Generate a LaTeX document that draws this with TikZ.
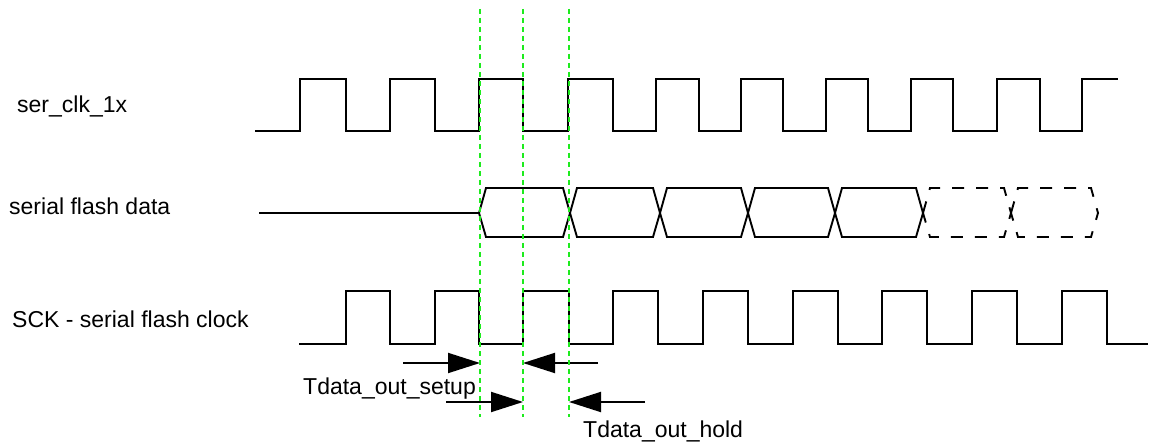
\documentclass[tikz,border=0pt]{standalone}
\usepackage{fontspec}
\setmainfont{Liberation Sans}
\usetikzlibrary{arrows.meta}
\definecolor{guidegreen}{RGB}{30,235,30}

\begin{document}
\begin{tikzpicture}[x=1pt,y=-1pt,
    wave/.style={line width=1.9pt,line join=miter},
    guide/.style={guidegreen,line width=2.3pt,dash pattern=on 5pt off 4pt},
    span/.style={line width=1.9pt,-{Triangle[length=32pt,width=20pt]}},
    lbl/.style={font=\fontsize{23}{27}\selectfont,inner sep=0pt}]
  \useasboundingbox (0,0) rectangle (1150,443);
  % signalu pavadinimai
  \node[lbl,anchor=base west] (lclk)  at (17,113) {ser\_clk\_1x};
  \node[lbl,anchor=base west] (ldata) at (9,215)  {serial flash data};
  \node[lbl,anchor=base west] (lsck)  at (12,327) {SCK - serial flash clock};
  % ser_clk_1x
  \draw[wave] (255,131) \foreach \a/\b in {300/346,390/435,479/523,568/613,656/699,
      741/783,826/868,911/953,997/1040}{ -- (\a,131) -- (\a,79) -- (\b,79) -- (\b,131)}
    -- (1082,131) -- (1082,79) -- (1118,79);
  % serial flash data
  \draw[wave] (259,213) -- (479,213);
  \foreach \a/\b in {479/570,570/660,660/748,748/835,835/923}
    \draw[wave] (\a,213) -- (\a+7,188) -- (\b-7,188) -- (\b,213)
      -- (\b-7,237) -- (\a+7,237) -- cycle;
  \foreach \a/\b in {923/1011,1011/1098}
    \draw[wave,dash pattern=on 12pt off 12pt] (\a,213) -- (\a+7,188) -- (\b-7,188)
      -- (\b,213) -- (\b-7,237) -- (\a+7,237) -- cycle;
  % SCK
  \draw[wave] (299,344) \foreach \a/\b in {346/390,435/479,523/569,613/658,703/748,
      793/838,882/927,972/1017,1062/1107}{ -- (\a,344) -- (\a,291) -- (\b,291) -- (\b,344)}
    -- (1148,344);
  % laiko intervalai
  \foreach \n/\x in {1/480,2/523,3/569}
    \coordinate (g\n) at (\x,9);
  \coordinate (s1) at (403,363);
  \coordinate (s2) at (446,402);
  \coordinate (h1) at (598,363);
  \coordinate (h2) at (645,402);
  \draw[span] (s1) -- (g1 |- s1);
  \draw[span] (s2) -- (g2 |- s2);
  \draw[span] (h1) -- (g2 |- h1);
  \draw[span] (h2) -- (g3 |- h2);
  \node[lbl,anchor=base west] (tsetup) at (303,394) {Tdata\_out\_setup};
  \node[lbl,anchor=base west] (thold)  at (583,437) {Tdata\_out\_hold};
  % zalios linijos
  \foreach \n in {1,2,3}
    \draw[guide] (g\n) -- ++(0,408);
\end{tikzpicture}
\end{document}
